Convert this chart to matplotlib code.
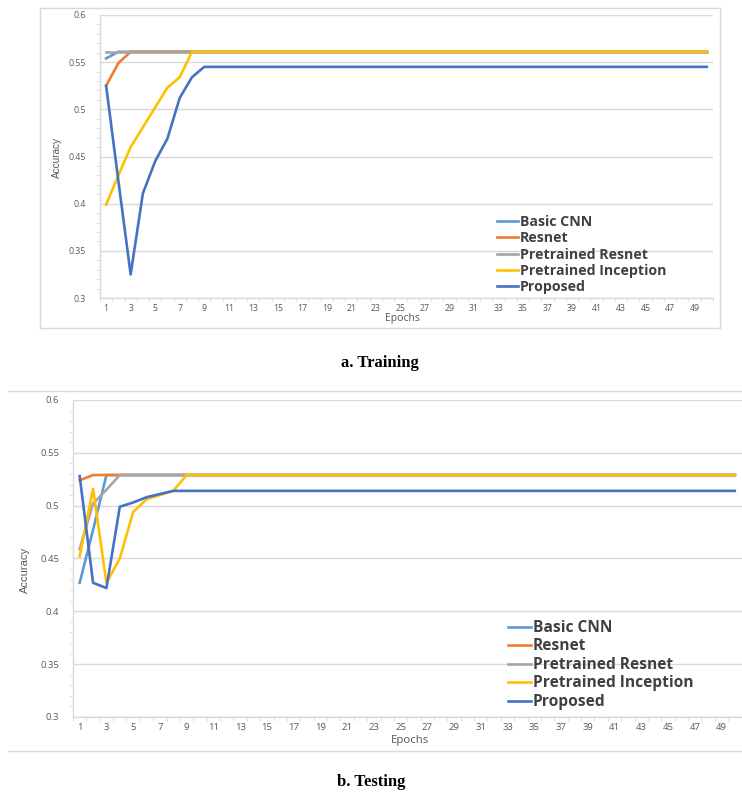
import matplotlib
matplotlib.use("Agg")
import matplotlib.pyplot as plt
from matplotlib.ticker import MultipleLocator, FixedLocator
import numpy as np

W, H = 742, 796

epochs = list(range(1, 51))
series_names = ["Basic CNN", "Resnet", "Pretrained Resnet", "Pretrained Inception", "Proposed"]
colors = ["#5B9BD5", "#ED7D31", "#A5A5A5", "#FFC000", "#4472C4"]

# Training accuracy per epoch
train_basic_cnn = [0.554] + [0.561] * 49
train_resnet = [0.525, 0.549] + [0.561] * 48
train_pre_resnet = [0.561] * 50
train_pre_inception = [0.399, 0.430, 0.460, 0.481, 0.502, 0.523, 0.534] + [0.561] * 43
train_proposed = [0.525, 0.424, 0.325, 0.411, 0.445, 0.469, 0.512, 0.534] + [0.545] * 42

# Testing accuracy per epoch
test_basic_cnn = [0.427, 0.477] + [0.529] * 48
test_resnet = [0.524] + [0.529] * 49
test_pre_resnet = [0.459, 0.502, 0.515] + [0.529] * 47
test_pre_inception = [0.452, 0.516, 0.427, 0.450, 0.494, 0.506, 0.510, 0.514] + [0.529] * 42
test_proposed = [0.528, 0.427, 0.422, 0.499, 0.503, 0.508, 0.511] + [0.514] * 43

y_ticks = [0.3, 0.35, 0.4, 0.45, 0.5, 0.55, 0.6]
y_tick_labels = ["0.3", "0.35", "0.4", "0.45", "0.5", "0.55", "0.6"]
x_tick_labels = [str(e) for e in epochs if e % 2 == 1]

plt.rcParams["font.family"] = ["Open Sans", "DejaVu Sans"]

fig = plt.figure(figsize=(W / 100, H / 100), dpi=100)


def fx(x):
    return x / W


def fy(y):
    return 1 - y / H


def rect(left, top, right, bottom):
    return [fx(left), fy(bottom), fx(right) - fx(left), fy(top) - fy(bottom)]


def frame_line(x0, y0, x1, y1):
    fig.add_artist(plt.Line2D([fx(x0), fx(x1)], [fy(y0), fy(y1)],
                              transform=fig.transFigure, color="#D9D9D9", lw=1.0))


def style_axes(ax, tick_size):
    ax.set_xlim(0.5, 50.5)
    ax.set_ylim(0.3, 0.6)
    ax.set_yticks(y_ticks)
    ax.set_yticklabels(y_tick_labels)
    ax.yaxis.set_minor_locator(MultipleLocator(0.01))
    ax.set_xticks([e for e in epochs if e % 2 == 1])
    ax.set_xticklabels(x_tick_labels)
    ax.xaxis.set_minor_locator(FixedLocator(np.arange(0.5, 51, 1.0)))
    ax.grid(axis="y", color="#D9D9D9", lw=1.0)
    ax.set_axisbelow(True)
    for s in ["top", "right"]:
        ax.spines[s].set_visible(False)
    for s in ["left", "bottom"]:
        ax.spines[s].set_color("#D9D9D9")
        ax.spines[s].set_linewidth(1.0)
    ax.tick_params(axis="x", which="major", length=0, pad=4, labelsize=tick_size, labelcolor="#595959")
    ax.tick_params(axis="x", which="minor", length=3, color="#D9D9D9", direction="out")
    ax.tick_params(axis="y", which="major", length=0, pad=10, labelsize=tick_size, labelcolor="#595959")
    ax.tick_params(axis="y", which="minor", length=3, color="#D9D9D9", direction="out")


def draw_panel(ax, data):
    for name, vals, c in zip(series_names, data, colors):
        ax.plot(epochs, vals, color=c, lw=1.9, label=name, solid_joinstyle="round")


def add_legend(ax, left, top, size, spacing):
    leg = ax.legend(loc="upper left", bbox_to_anchor=(fx(left), fy(top)), bbox_transform=fig.transFigure,
                    frameon=False, handlelength=1.5, handletextpad=0.1, labelspacing=spacing,
                    borderpad=0, borderaxespad=0, prop={"size": size, "weight": "bold"})
    for t in leg.get_texts():
        t.set_color("#404040")
    return leg


# ---- Training panel ----
frame_line(40, 8, 720, 8)
frame_line(40, 328, 720, 328)
frame_line(40, 8, 40, 328)
frame_line(720, 8, 720, 328)

ax1 = fig.add_axes(rect(100, 15, 713, 298))
draw_panel(ax1, [train_basic_cnn, train_resnet, train_pre_resnet, train_pre_inception, train_proposed])
style_axes(ax1, 6.3)
add_legend(ax1, 497, 215, 10.2, 0.16)
fig.text(fx(57), fy(157), "Accuracy", rotation=90, ha="center", va="center",
         fontsize=7.2, color="#595959", family=["Liberation Sans Narrow", "Liberation Sans"])
fig.text(fx(402), fy(318), "Epochs", ha="center", va="center", fontsize=7.5, color="#595959")
fig.text(fx(380), fy(363), "a. Training", ha="center", va="center", fontsize=12,
         fontweight="bold", family=["Liberation Serif"], color="black")

# ---- Testing panel ----
frame_line(8, 391, 742, 391)
frame_line(8, 751, 742, 751)

ax2 = fig.add_axes(rect(73, 400, 741.5, 717))
draw_panel(ax2, [test_basic_cnn, test_resnet, test_pre_resnet, test_pre_inception, test_proposed])
style_axes(ax2, 6.8)
add_legend(ax2, 508, 620, 11.2, 0.16)
fig.text(fx(25), fy(570), "Accuracy", rotation=90, ha="center", va="center",
         fontsize=8, color="#595959", family=["Liberation Sans Narrow", "Liberation Sans"])
fig.text(fx(410), fy(740), "Epochs", ha="center", va="center", fontsize=8.2, color="#595959")
fig.text(fx(371), fy(782), "b. Testing", ha="center", va="center", fontsize=12,
         fontweight="bold", family=["Liberation Serif"], color="black")

fig.savefig("out.png", dpi=100)
